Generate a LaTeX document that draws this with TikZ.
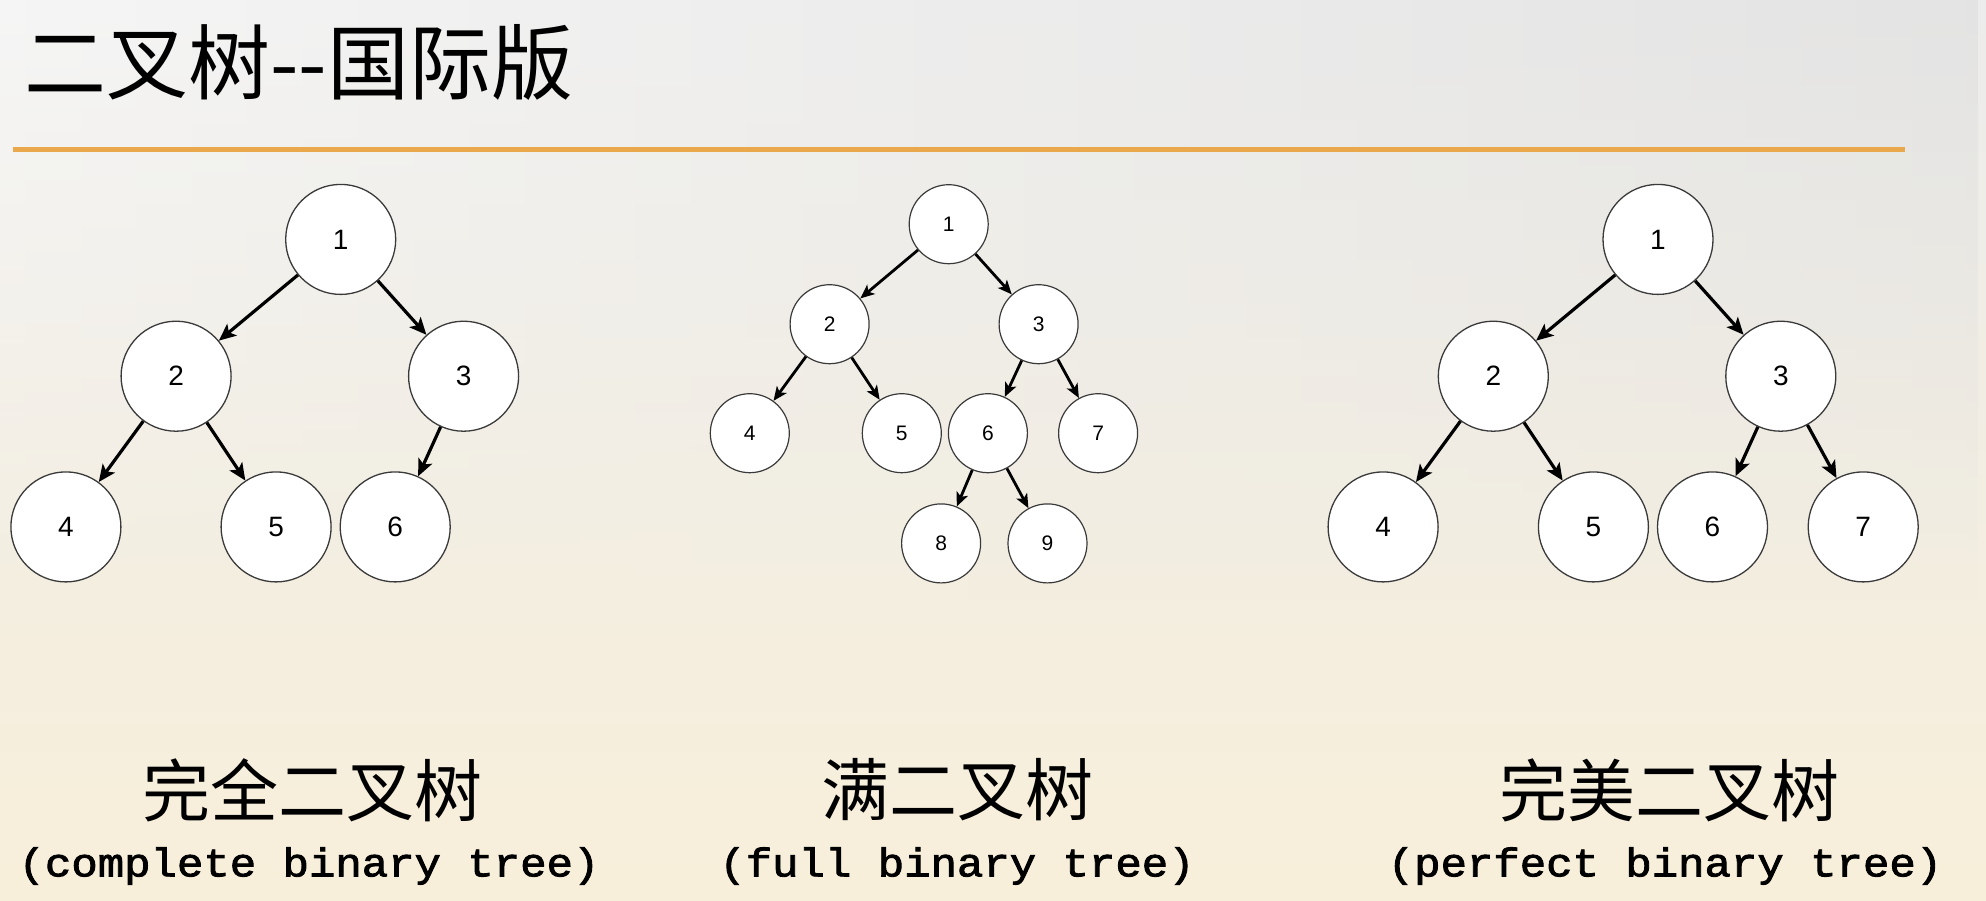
\documentclass[tikz,border=0pt]{standalone}
\usepackage{fontspec}
\setmainfont{Liberation Sans}
\newfontfamily\cjk{Noto Sans CJK SC}
\newfontfamily\monob[FakeStretch=1.1,FakeBold=2.2]{Liberation Mono}
\usetikzlibrary{arrows.meta,fadings}
\definecolor{bgtop}{HTML}{ECECEC}
\definecolor{bgmid}{HTML}{F3F0E8}
\definecolor{bgbot}{HTML}{F8EFDA}
\definecolor{rulecol}{HTML}{E9A84B}
\definecolor{ring}{HTML}{3A3A3A}
\begin{document}
\begin{tikzpicture}[x=1pt,y=-1pt,
  bignode/.style={circle, draw=ring, fill=white, line width=1.3pt, minimum size=110pt, inner sep=0pt, font=\fontsize{28}{32}\selectfont},
  smallnode/.style={circle, draw=ring, fill=white, line width=1.2pt, minimum size=79pt, inner sep=0pt, font=\fontsize{21}{25}\selectfont},
  bigedge/.style={line width=3.2pt, -{Stealth[length=17pt,width=15pt,inset=4pt]}},
  smalledge/.style={line width=2.8pt, -{Stealth[length=14pt,width=12pt,inset=3.5pt]}},
  cnlabel/.style={font=\cjk\fontsize{68}{80}\selectfont, inner sep=0pt},
  enlabel/.style={font=\monob\fontsize{40}{48}\selectfont, inner sep=0pt}]
\useasboundingbox (0,0) rectangle (1986,900);
\shade[top color=bgtop, middle color=bgmid, bottom color=bgbot] (0,0) rectangle (1986,900);
\shade[left color=white, right color=black!14, opacity=0.5, path fading=south] (0,0) rectangle (1986,600);
% title
\node[anchor=west, inner sep=0pt, font=\cjk\fontsize{82}{96}\selectfont] (title) at (24,62) {二叉树--国际版};
\coordinate (ruleL) at (12.7,149.5);
\coordinate (ruleR) at (1905,149.5);
\draw[rulecol, line width=5pt] (ruleL) -- (ruleR);

% tree 1: complete
\node[bignode] (a1) at (340.7,239.4) {1};
\node[bignode] (a2) at (176.1,376.2) {2};
\node[bignode] (a3) at (463.6,376.2) {3};
\node[bignode] (a4) at (65.9,526.9) {4};
\node[bignode] (a5) at (276.1,526.9) {5};
\node[bignode] (a6) at (395.2,526.9) {6};
\draw[bigedge] (a1) -- (a2);
\draw[bigedge] (a1) -- (a3);
\draw[bigedge] (a2) -- (a4);
\draw[bigedge] (a2) -- (a5);
\draw[bigedge] (a3) -- (a6);

% tree 2: full
\node[smallnode] (b1) at (948.7,224.2) {1};
\node[smallnode] (b2) at (829.6,324.2) {2};
\node[smallnode] (b3) at (1038.6,324.2) {3};
\node[smallnode] (b4) at (749.8,433.2) {4};
\node[smallnode] (b5) at (901.8,433.2) {5};
\node[smallnode] (b6) at (987.9,433.2) {6};
\node[smallnode] (b7) at (1098.1,433.2) {7};
\node[smallnode] (b8) at (941.1,543.4) {8};
\node[smallnode] (b9) at (1047.5,543.4) {9};
\draw[smalledge] (b1) -- (b2);
\draw[smalledge] (b1) -- (b3);
\draw[smalledge] (b2) -- (b4);
\draw[smalledge] (b2) -- (b5);
\draw[smalledge] (b3) -- (b6);
\draw[smalledge] (b3) -- (b7);
\draw[smalledge] (b6) -- (b8);
\draw[smalledge] (b6) -- (b9);

% tree 3: perfect
\node[bignode] (c1) at (1658.0,239.4) {1};
\node[bignode] (c2) at (1493.3,376.2) {2};
\node[bignode] (c3) at (1780.8,376.2) {3};
\node[bignode] (c4) at (1383.1,526.9) {4};
\node[bignode] (c5) at (1593.4,526.9) {5};
\node[bignode] (c6) at (1712.5,526.9) {6};
\node[bignode] (c7) at (1863.2,526.9) {7};
\draw[bigedge] (c1) -- (c2);
\draw[bigedge] (c1) -- (c3);
\draw[bigedge] (c2) -- (c4);
\draw[bigedge] (c2) -- (c5);
\draw[bigedge] (c3) -- (c6);
\draw[bigedge] (c3) -- (c7);

% labels
\node[cnlabel] (l1) at (312,790) {完全二叉树};
\node[enlabel] (e1) at (309,866) {(complete binary tree)};
\node[cnlabel] (l2) at (957,790) {满二叉树};
\node[enlabel] (e2) at (957,866) {(full binary tree)};
\node[cnlabel] (l3) at (1669,790) {完美二叉树};
\node[enlabel] (e3) at (1665,866) {(perfect binary tree)};
\end{tikzpicture}
\end{document}
